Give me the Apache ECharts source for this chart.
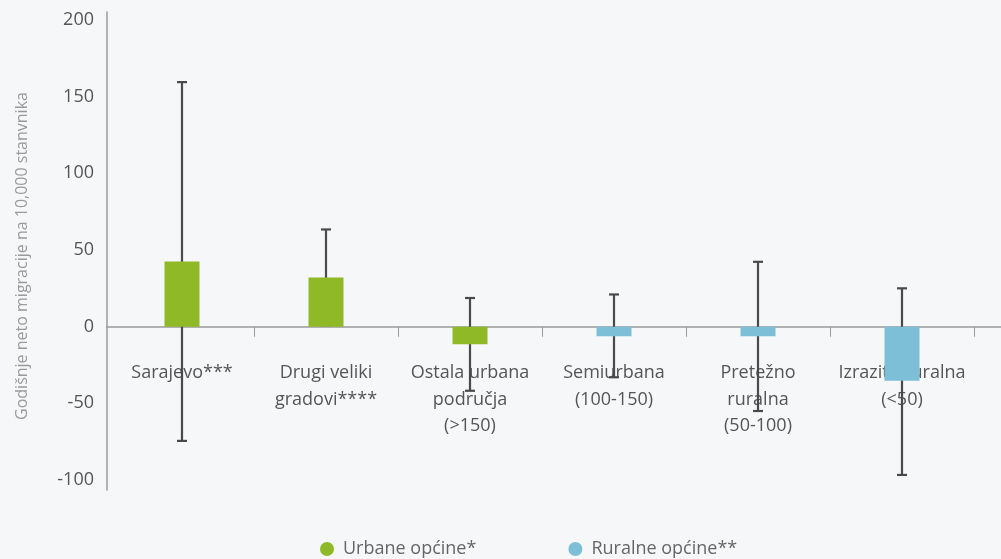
<!DOCTYPE html>
<html>
<head>
<meta charset="utf-8">
<script src="https://cdn.jsdelivr.net/npm/echarts@6/dist/echarts.min.js"></script>
<style>
html,body{margin:0;padding:0;background:#f6f7f9;}
#c{width:1001px;height:559px;}
</style>
</head>
<body>
<div id="c"></div>
<script>
const categories = ['Sarajevo***', 'Drugi veliki\ngradovi****', 'Ostala urbana\npodručja\n(>150)', 'Semiurbana\n(100-150)', 'Pretežno\nruralna\n(50-100)', 'Izrazito ruralna\n(<50)'];
const urbanValues = [42.5, 32, -11.5, '-', '-', '-'];
const ruralValues = ['-', '-', '-', -6.3, -6.3, -35.3];
const errLow = [-74.5, 1, -41.8, -33, -55, -96.7];
const errHigh = [159.5, 63.4, 18.7, 21, 42.3, 25];
const yTicks = [-100, -50, 0, 50, 100, 150, 200];
const seriesNames = ['Urbane općine*', 'Ruralne općine**'];

const FONT = 'Open Sans';
const chart = echarts.init(document.getElementById('c'), null, {renderer: 'canvas'});
const errData = categories.map((c, i) => [i, errLow[i], errHigh[i]]);

// layout of main plot
const H = 559, G_TOP = 20, G_BOTTOM = 79, Y_MIN = -100, Y_MAX = 200;
const pxPerUnit = (H - G_TOP - G_BOTTOM) / (Y_MAX - Y_MIN);
const zeroPx = G_TOP + Y_MAX * pxPerUnit;
// extended axis-line frame
const F_TOP = 12, F_BOTTOM = 69;
const fMax = (zeroPx - F_TOP) / pxPerUnit;
const fMin = (zeroPx - (H - F_BOTTOM)) / pxPerUnit;

chart.setOption({
  backgroundColor: '#f6f7f9',
  animation: false,
  textStyle: {fontFamily: FONT},
  grid: [
    {left: 110, right: 27, top: G_TOP, bottom: G_BOTTOM, outerBoundsMode: 'none', containLabel: false},
    {left: 107, right: 0, top: F_TOP, bottom: F_BOTTOM, outerBoundsMode: 'none', containLabel: false},
    {left: 110, right: 27, top: G_TOP, bottom: H - zeroPx, outerBoundsMode: 'none', containLabel: false}
  ],
  legend: {
    data: [
      {name: seriesNames[0], itemStyle: {color: '#8fb926'}},
      {name: seriesNames[1], itemStyle: {color: '#7cbfd6'}}
    ],
    icon: 'circle',
    itemWidth: 14, itemHeight: 14,
    itemGap: 92,
    left: 315, top: 535,
    textStyle: {fontFamily: FONT, fontSize: 18, color: '#666', padding: [0, 0, 0, 4]}
  },
  xAxis: [
    {
      type: 'category', gridIndex: 0, data: categories, show: false
    },
    {
      type: 'value', gridIndex: 1, min: 0, max: 1,
      axisLine: {show: true, onZero: true, lineStyle: {color: '#9a9a9a', width: 1.5}},
      axisTick: {show: false}, axisLabel: {show: false}, splitLine: {show: false}
    },
    {
      type: 'category', gridIndex: 2, data: categories, position: 'bottom',
      axisLine: {show: false},
      axisTick: {show: true, length: 10, interval: function (i) { return i > 0; },
        lineStyle: {color: '#9a9a9a', width: 1}},
      axisLabel: {margin: 33, interval: 0, fontFamily: FONT, fontSize: 18, color: '#555', lineHeight: 26.5}
    }
  ],
  yAxis: [
    {
      type: 'value', gridIndex: 0, min: Y_MIN, max: Y_MAX, interval: 50,
      axisLine: {show: false}, axisTick: {show: false}, splitLine: {show: false},
      axisLabel: {margin: 16, fontFamily: FONT, fontSize: 18, color: '#555',
        customValues: yTicks},
      name: 'Godišnje neto migracije na 10,000 stanvnika',
      nameLocation: 'middle', nameGap: 80,
      nameTextStyle: {fontFamily: FONT, fontSize: 16, color: '#9a9a9a', padding: [0, 12, 0, 0]}
    },
    {
      type: 'value', gridIndex: 1, min: fMin, max: fMax,
      axisLine: {show: true, lineStyle: {color: '#9a9a9a', width: 1.5}},
      axisTick: {show: false}, axisLabel: {show: false}, splitLine: {show: false}
    },
    {
      type: 'value', gridIndex: 2, min: 0, max: Y_MAX, show: false
    }
  ],
  series: [
    {
      type: 'custom', name: 'err', xAxisIndex: 0, yAxisIndex: 0, z: 1,
      data: errData,
      renderItem: function (params, api) {
        const x = api.coord([api.value(0), 0])[0];
        const yl = api.coord([api.value(0), api.value(1)])[1];
        const yh = api.coord([api.value(0), api.value(2)])[1];
        const hw = 5;
        const st = {stroke: '#4a4a4a', lineWidth: 2.2};
        return {type: 'group', children: [
          {type: 'line', shape: {x1: x, y1: yl, x2: x, y2: yh}, style: st},
          {type: 'line', shape: {x1: x - hw, y1: yh, x2: x + hw, y2: yh}, style: st},
          {type: 'line', shape: {x1: x - hw, y1: yl, x2: x + hw, y2: yl}, style: st}
        ]};
      }
    },
    {
      type: 'bar', name: seriesNames[0], data: urbanValues, barWidth: 35, barGap: '-100%', z: 3,
      itemStyle: {color: '#8fb926'}
    },
    {
      type: 'bar', name: seriesNames[1], data: ruralValues, barWidth: 35, barGap: '-100%', z: 3,
      itemStyle: {color: '#7cbfd6'}
    }
  ]
});
</script>
</body>
</html>
